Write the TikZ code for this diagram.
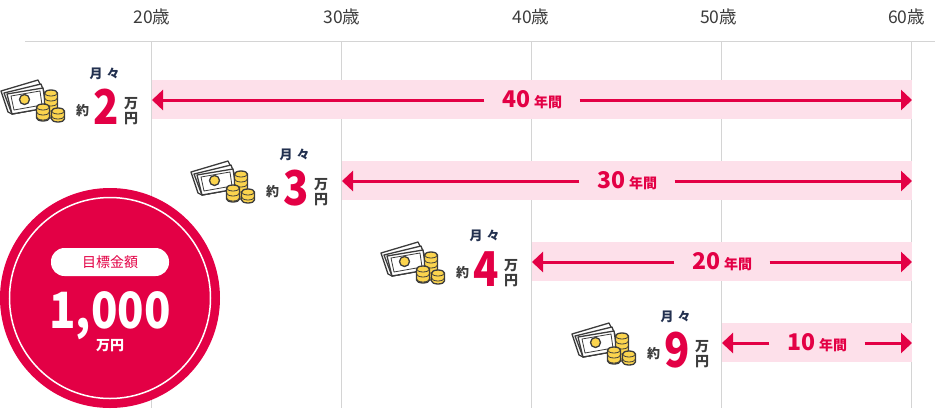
\documentclass[tikz,border=0pt]{standalone}
\usepackage{fontspec}
\setmainfont{Noto Sans CJK JP}[RawFeature=+palt]
\usetikzlibrary{arrows.meta}
\definecolor{rosered}{HTML}{E30045}
\definecolor{bandpink}{HTML}{FDE0EA}
\definecolor{gridgray}{HTML}{D4D4D4}
\definecolor{inkgray}{HTML}{3C3C3C}
\definecolor{inknavy}{HTML}{22304F}
\definecolor{coinyellow}{HTML}{FBD44E}
\tikzset{
  agelabel/.style={font=\fontsize{17.5}{18}\selectfont, text=inkgray, inner sep=0pt},
  gridline/.style={draw=gridgray, line width=1pt},
  spanarrow/.style={draw=rosered, line width=3pt, -{Triangle[length=11pt,width=20pt]}},
  spanlabel/.style={text=rosered, inner sep=0pt, minimum width=95pt, minimum height=20pt, font=\bfseries},
  iconline/.style={draw=inkgray, line width=1.3pt, line join=round},
  pics/coinstack/.style={code={
    \draw[iconline, fill=coinyellow] (-6.5,0) -- (-6.5,#1) arc[start angle=180, end angle=0, x radius=6.5, y radius=3] -- (6.5,0) arc[start angle=0, end angle=-180, x radius=6.5, y radius=3];
    \foreach \ty in {0,5,...,#1}{
      \draw[iconline, line width=.8pt] (-6.5,\ty) arc[start angle=180, end angle=0, x radius=6.5, y radius=3];
    }
  }},
  pics/money/.style={code={
    \draw[iconline, fill=white] (1,91) -- (38,80) -- (43,90) -- (45,108) -- (12,114) -- (8,112) -- cycle;
    \draw[iconline, fill=white] (4,93) -- (41,84) -- (44,92) -- (45,108) -- (12,114) -- cycle;
    \draw[iconline, fill=white] (7,94) -- (43,88) -- (46,108) -- (12,114) -- cycle;
    \draw[iconline, line width=.8pt] (11,96) -- (40,91) -- (42,105) -- (14,110) -- cycle;
    \draw[iconline, fill=coinyellow] (24.5,99.5) circle (5);
    \path (51,93) pic {coinstack=22};
    \path (43,107) pic {coinstack=11};
    \path (58,111) pic {coinstack=8};
  }}
}
% one row: x and y offset, band start, digit, centre of years label, years
\newcommand{\payrow}[6]{
  \path[fill=bandpink] (#3,#2+80) rectangle (912,#2+119);
  \path (#1,#2) pic {money};
  \node[text=inknavy, font=\bfseries\fontsize{13}{13}\selectfont, inner sep=0pt] (month#4) at (#1+104.5,#2+74) {月\hspace{4pt}々};
  \node[text=inkgray, font=\bfseries\fontsize{13}{13}\selectfont, inner sep=0pt] (about#4) at (#1+82.5,#2+111) {約};
  \node[text=rosered, font=\bfseries\fontsize{48}{48}\selectfont, inner sep=0pt] (digit#4) at (#1+106,#2+107) {\scalebox{.87}[1]{#4}};
  \node[text=inkgray, font=\bfseries\fontsize{14}{14.5}\selectfont, inner sep=0pt, align=center] (unit#4) at (#1+131,#2+111) {万\\円};
  \node[spanlabel] (years#4) at (#5,#2+100) {\fontsize{23}{23}\selectfont #6\hspace{4pt}\fontsize{14}{14}\selectfont 年間};
  \coordinate (left#4) at (#3,#2+100);
  \coordinate (right#4) at (912,#2+100);
  \draw[spanarrow] (years#4) -- (left#4);
  \draw[spanarrow] (years#4) -- (right#4);
}
\begin{document}
\begin{tikzpicture}[x=1pt,y=-1pt]
\useasboundingbox (0,0) rectangle (936,408);
\draw[gridline] (25,41) -- (935,41);
\foreach \gx/\tx/\age in {151.5/152/20, 341.5/342/30, 531.5/531/40, 721.5/718.5/50, 911.5/906.5/60}{
  \node[agelabel] (age\age) at (\tx,17) {\age 歳};
  \draw[gridline] (\gx,41) -- (\gx,408);
}

\payrow{0}{0}{152}{2}{532}{40}
\payrow{190}{81}{342}{3}{627}{30}
\payrow{380}{162}{532}{4}{722}{20}
\payrow{571}{243}{722}{9}{817}{10}

% goal badge
\node[circle, fill=rosered, minimum size=220pt, inner sep=0pt] (goal) at (110,298) {};
\node[circle, draw=white, line width=1.5pt, minimum size=201pt, inner sep=0pt] (goalring) at (goal) {};
\node[fill=white, rounded corners=13.5pt, minimum width=118pt, minimum height=28pt, inner sep=0pt, text=rosered, font=\fontsize{14}{14}\selectfont] (goaltag) at (110,262) {目標金額};
\node[text=white, font=\bfseries\fontsize{50}{50}\selectfont, inner sep=0pt] (goalsum) at (110,316) {\scalebox{.87}[1]{1,000}};
\node[text=white, font=\bfseries\fontsize{14}{14}\selectfont, inner sep=0pt] (goalunit) at (110,346) {万円};
\end{tikzpicture}
\end{document}
